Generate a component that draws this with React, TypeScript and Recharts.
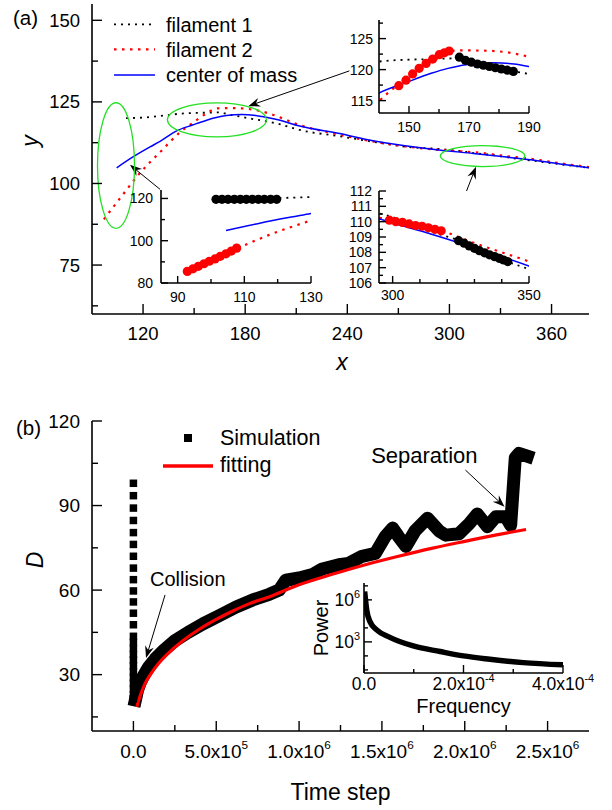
import React from 'react'
import {
  ComposedChart, Line, Scatter, XAxis, YAxis, CartesianGrid,
  ReferenceDot, ReferenceLine, Legend,
} from 'recharts'

const FONT = '"Liberation Sans", Arial, Helvetica, sans-serif'

// ── (a) filament trajectories ─────────────────────────────────────────────────

const fil1X = [110, 120, 134, 142, 150, 158, 165, 168, 171, 175, 180, 185, 190, 200, 212, 235, 255, 275, 296, 305, 315, 324, 333, 342, 350, 365, 382]
const fil1Y = [120.0, 120.2, 120.9, 121.4, 121.6, 121.7, 121.8, 121.5, 121.1, 120.7, 120.2, 119.7, 119.3, 118.2, 116.4, 114.5, 112.8, 111.2, 110.5, 110.0, 109.3, 108.8, 108.1, 107.4, 106.9, 105.9, 104.8]

const fil2X = [97, 100, 104, 108, 118, 130, 142, 149, 153.5, 158, 163.5, 168, 178, 188, 195, 212, 235, 255, 275, 299, 311, 318, 330, 340, 350, 365, 382]
const fil2Y = [89.0, 91.1, 93.8, 96.5, 103.1, 109.6, 115.8, 118.5, 120.2, 121.7, 123.0, 123.1, 123.0, 122.3, 121.3, 117.9, 115.0, 112.9, 111.3, 110.1, 109.7, 109.4, 108.6, 108.0, 107.4, 106.2, 105.0]

const comX = [104.5, 114.3, 124.1, 130, 140, 149, 157.4, 163, 169, 178, 185, 190, 198.6, 212, 235.5, 255, 275, 295, 314, 333.5, 350, 365, 382]
const comY = [104.8, 108.2, 111.2, 112.9, 116.2, 117.9, 119.4, 120.2, 120.8, 121.1, 120.9, 120.5, 119.6, 117.6, 115.3, 113.1, 111.5, 110.2, 109.2, 108.1, 107.1, 106.0, 104.8]

// beads of the filaments, only visible in the insets
const redBeadX = [92.9, 94.6, 96.2, 97.9, 99.5, 101.2, 102.8, 104.5, 106.1, 107.7, 146.6, 149.0, 151.2, 153.4, 155.7, 157.9, 160.1, 161.8, 163.4, 298.8, 301.2, 303.6, 306.0, 308.4, 310.8, 313.1, 315.5, 317.8]
const redBeadY = [85.5, 86.7, 87.9, 89.1, 90.3, 91.4, 92.6, 93.8, 95.1, 96.5, 117.4, 118.3, 119.3, 120.2, 121.0, 121.7, 122.4, 122.7, 123.0, 110.1, 110.0, 109.95, 109.85, 109.75, 109.7, 109.6, 109.5, 109.4]
const blackBeadX = [101.5, 103.3, 105.1, 107.0, 108.8, 110.6, 112.4, 114.2, 116.0, 117.9, 119.7, 166.8, 168.8, 170.8, 172.8, 174.8, 176.8, 178.8, 180.8, 182.8, 184.8, 324.2, 326.2, 328.1, 330.0, 331.8, 333.7, 335.5, 337.4, 339.2, 340.7, 342.2]
const blackBeadY = [119.6, 119.6, 119.6, 119.6, 119.6, 119.6, 119.6, 119.6, 119.6, 119.6, 119.6, 122.0, 121.5, 121.2, 120.9, 120.7, 120.5, 120.3, 120.1, 119.9, 119.7, 108.76, 108.6, 108.42, 108.26, 108.11, 107.97, 107.84, 107.72, 107.6, 107.5, 107.4]

// ── (b) distance vs time step ─────────────────────────────────────────────────

const simColumnD = [97.9, 93.5, 89.1, 84.7, 80.4, 76.2, 72.0, 67.8, 63.7, 59.7, 55.8, 51.8, 47.7, 43.6, 41.4, 39.3, 37.2, 35.2, 33.1, 31.0, 29.0, 26.9, 24.8, 22.8, 21.5]
const simTrailT = [1.2e4, 2.5e4, 4e4, 6e4, 9e4, 1.3e5, 1.8e5, 2.5e5, 3.3e5, 4.2e5, 5.2e5, 6.2e5, 7.2e5, 8.2e5, 8.8e5, 9.2e5, 1.0e6, 1.08e6, 1.14e6, 1.24e6, 1.3e6, 1.38e6, 1.46e6, 1.52e6, 1.565e6, 1.6e6, 1.645e6, 1.7e6, 1.775e6, 1.845e6, 1.885e6, 1.965e6, 2.026e6, 2.076e6, 2.137e6, 2.187e6, 2.247e6, 2.277e6, 2.305e6, 2.327e6, 2.378e6]
const simTrailD = [21.0, 24.5, 27.0, 29.5, 32.5, 35.5, 38.5, 42.0, 45.0, 48.0, 51.0, 54.0, 56.5, 58.5, 60.0, 63.5, 64.3, 65.5, 67.5, 69.0, 69.5, 72.0, 73.0, 79.0, 82.0, 79.0, 75.5, 81.0, 85.5, 81.0, 79.5, 80.0, 83.5, 87.0, 82.5, 86.0, 86.0, 83.0, 107.0, 108.5, 107.5]
const fitT = [2e4, 4e4, 7e4, 1e5, 1.5e5, 2e5, 3e5, 4e5, 5e5, 6e5, 7e5, 8e5, 1e6, 1.2e6, 1.4e6, 1.6e6, 1.8e6, 2e6, 2.2e6, 2.37e6]
const fitD = [18.5, 22.3, 26.8, 29.8, 33.9, 37.0, 42.1, 46.2, 49.6, 52.6, 55.2, 57.2, 61.9, 65.6, 69.0, 72.0, 74.8, 77.3, 79.7, 81.5]

// power spectrum (inset of b)
const freq = [1.3e-6, 5.4e-6, 1.2e-5, 2.55e-5, 5.2e-5, 9.9e-5, 1.53e-4, 2.0e-4, 2.53e-4, 3.2e-4, 4.0e-4]
const power = [4.0e6, 1.95e5, 2.8e4, 7.2e3, 2.1e3, 510, 205, 100, 58, 33, 23]

// ── tables for recharts ───────────────────────────────────────────────────────

const pts = (xs: number[], ys: number[]) => xs.map((x, i) => ({ x, y: ys[i] }))
const fil1 = pts(fil1X, fil1Y)
const fil2 = pts(fil2X, fil2Y)
const com = pts(comX, comY)
const redBeads = pts(redBeadX, redBeadY)
const blackBeads = pts(blackBeadX, blackBeadY)
const simColumn = simColumnD.map(d => ({ t: 0, d }))
const simTrail = simTrailT.map((t, i) => ({ t, d: simTrailD[i] }))
const fit = fitT.map((t, i) => ({ t, d: fitD[i] }))
const spectrum = freq.map((f, i) => ({ f, p: power[i] }))

// annotations (data coordinates)
const ellipsesA = [
  { x: 104.1, y: 105.5, rx: 18.5, ry: 62.8 },
  { x: 163.4, y: 119.5, rx: 49.5, ry: 17 },
  { x: 319.5, y: 108.4, rx: 42.3, ry: 10.5 },
]
const arrowsA = [
  { x1: 241.2, y1: 134.5, x2: 181.8, y2: 123.7 },
  { x1: 130, y1: 98.2, x2: 112.3, y2: 105.7 },
  { x1: 308.7, y1: 95.9, x2: 315.6, y2: 105.1 },
]
const notesB = [
  { t: 1.0e5, d: 61.5, text: 'Collision', fs: 20 },
  { t: 1.435e6, d: 105.2, text: 'Separation', fs: 22 },
]
const arrowsB = [
  { x1: 1.91e5, y1: 58.3, x2: 7.6e4, y2: 35.9 },
  { x1: 2.004e6, y1: 102.6, x2: 2.24e6, y2: 89.6 },
]

// ── axis helpers ──────────────────────────────────────────────────────────────

const AXIS = { stroke: '#000', strokeWidth: 1.6 }
const txt = { fontFamily: FONT, fill: '#000' } as const

type Side = 'left' | 'right' | 'top' | 'bottom'
type Fmt = (v: number, fs: number) => React.ReactNode

interface TickSpec {
  side: Side
  majors: number[]
  fmt?: Fmt
  fs?: number
  gap?: number
  len?: [number, number]
  out?: boolean
}

const isMajor = (majors: number[], v: number) =>
  majors.some(m => Math.abs(m - v) <= Math.abs(m) * 1e-9 + 1e-15)

function makeTick(s: TickSpec) {
  return function AxisTick(props: any) {
    const { x, y, payload } = props
    const v = payload.value
    const major = isMajor(s.majors, v)
    const [lMaj, lMin] = s.len ?? [8, 4]
    const l = (major ? lMaj : lMin) * (s.out ? -1 : 1)
    const x2 = s.side === 'left' ? x + l : s.side === 'right' ? x - l : x
    const y2 = s.side === 'bottom' ? y - l : s.side === 'top' ? y + l : y
    const fs = s.fs ?? 14
    const gap = s.gap ?? 0
    let label: React.ReactNode = null
    if (major && s.fmt) {
      label = s.side === 'bottom'
        ? <text x={x} y={y + gap} textAnchor="middle" fontSize={fs} style={txt}>{s.fmt(v, fs)}</text>
        : <text x={x - gap} y={y + fs * 0.355} textAnchor="end" fontSize={fs} style={txt}>{s.fmt(v, fs)}</text>
    }
    return (
      <g>
        <line x1={x} y1={y} x2={x2} y2={y2} stroke="#000" strokeWidth={1.4} />
        {label}
      </g>
    )
  }
}

const plain: Fmt = v => String(v)
const sci: Fmt = (v, fs) => {
  if (v === 0) return '0.0'
  const e = Math.floor(Math.log10(Math.abs(v)) + 1e-9)
  const m = v / Math.pow(10, e)
  return <>{m.toFixed(1)}x10<tspan dy={-fs * 0.45} fontSize={fs * 0.62}>{e}</tspan></>
}
const pow10: Fmt = (v, fs) => {
  const e = Math.round(Math.log10(v))
  return <>10<tspan dy={-fs * 0.45} fontSize={fs * 0.62}>{e}</tspan></>
}

function axisTitle(text: string, o: { side: 'bottom' | 'left'; off: number; shift?: number; fs: number; italic?: boolean }) {
  return (props: any) => {
    const vb = props.viewBox
    const style = { ...txt, fontStyle: o.italic ? 'italic' : 'normal' }
    if (o.side === 'bottom') {
      const x = vb.x + vb.width / 2 + (o.shift ?? 0)
      return <text x={x} y={vb.y + o.off} textAnchor="middle" fontSize={o.fs} style={style}>{text}</text>
    }
    const x = vb.x + vb.width - o.off
    const y = vb.y + vb.height / 2 + (o.shift ?? 0)
    return <text x={x} y={y} transform={`rotate(-90 ${x} ${y})`} textAnchor="middle" fontSize={o.fs} style={style}>{text}</text>
  }
}

interface FrameCfg {
  xKey: string
  xDomain: [number, number]
  yDomain: [number, number]
  xTicks: number[]
  xMajors: number[]
  yTicks: number[]
  yMajors: number[]
  xFmt: Fmt
  yFmt: Fmt
  fs: number
  gapX: number
  gapY: number
  len: [number, number]
  mirrorLen: [number, number]
  rightOut?: boolean
  xHeight: number
  yWidth: number
  yLog?: boolean
  xLabel?: any
  yLabel?: any
}

// four axes that together make the closed frame with ticks on every side
function frame(c: FrameCfg) {
  const common = { type: 'number' as const, allowDataOverflow: true, interval: 0 as const, tickSize: 0, tickMargin: 0, tickLine: false, axisLine: AXIS }
  return [
    <XAxis key="xb" {...common} dataKey={c.xKey} domain={c.xDomain} ticks={c.xTicks} height={c.xHeight}
      tick={makeTick({ side: 'bottom', majors: c.xMajors, fmt: c.xFmt, fs: c.fs, gap: c.gapX, len: c.len })}
      label={c.xLabel} />,
    <XAxis key="xt" {...common} xAxisId="top" orientation="top" domain={c.xDomain} ticks={c.xTicks} height={0}
      tick={makeTick({ side: 'top', majors: c.xMajors, len: c.mirrorLen })} />,
    <YAxis key="yl" {...common} scale={c.yLog ? 'log' : 'auto'} domain={c.yDomain} ticks={c.yTicks} width={c.yWidth}
      tick={makeTick({ side: 'left', majors: c.yMajors, fmt: c.yFmt, fs: c.fs, gap: c.gapY, len: c.len })}
      label={c.yLabel} />,
    <YAxis key="yr" {...common} yAxisId="right" orientation="right" scale={c.yLog ? 'log' : 'auto'} domain={c.yDomain} ticks={c.yTicks} width={0}
      tick={makeTick({ side: 'right', majors: c.yMajors, len: c.mirrorLen, out: c.rightOut })} />,
  ]
}

function arrowShape(p: any) {
  const { x1, y1, x2, y2 } = p
  const dx = x2 - x1
  const dy = y2 - y1
  const L = Math.hypot(dx, dy) || 1
  const ux = dx / L
  const uy = dy / L
  const h = 12
  const w = 4.5
  const n = 8
  const bx = x2 - ux * h
  const by = y2 - uy * h
  const head = `${x2},${y2} ${bx - uy * w},${by + ux * w} ${x2 - ux * n},${y2 - uy * n} ${bx + uy * w},${by - ux * w}`
  return (
    <g>
      <line x1={x1} y1={y1} x2={x2 - ux * n} y2={y2 - uy * n} stroke="#000" strokeWidth={1} />
      <polygon points={head} fill="#000" />
    </g>
  )
}

// ── line styles ───────────────────────────────────────────────────────────────

const fil1Style = { stroke: '#000', strokeWidth: 1.8, strokeDasharray: '2 5' }
const fil2Style = { stroke: '#ff0000', strokeWidth: 2.2, strokeDasharray: '2.5 5.5' }
const comStyle = { stroke: '#0000ff', strokeWidth: 1.5 }
const noAnim = { dot: false, activeDot: false, isAnimationActive: false, type: 'monotone' as const }

function LegendA() {
  return (
    <svg width={330} height={100}>
      <line x1={114} y1={24.3} x2={155} y2={24.3} {...fil1Style} />
      <text x={166} y={31.7} fontSize={20} style={txt}>filament 1</text>
      <line x1={114} y1={49.3} x2={155} y2={49.3} {...fil2Style} />
      <text x={166} y={56.7} fontSize={20} style={txt}>filament 2</text>
      <line x1={114} y1={75} x2={155} y2={75} {...comStyle} />
      <text x={166} y={81.7} fontSize={20} style={txt}>center of mass</text>
    </svg>
  )
}

function LegendB() {
  return (
    <svg width={330} height={100}>
      <rect x={184} y={34} width={8} height={8} fill="#000" />
      <text x={220} y={45} fontSize={21.5} style={txt}>Simulation</text>
      <line x1={163} y1={66} x2={213} y2={66} stroke="#ff0000" strokeWidth={3.5} />
      <text x={220} y={71.7} fontSize={21.5} style={txt}>fitting</text>
    </svg>
  )
}

function PanelA() {
  return (
    <ComposedChart width={612} height={380} margin={{ top: 4, right: 23, left: 52, bottom: 16 }}>
      {frame({
        xKey: 'x', xDomain: [90, 382], yDomain: [60, 155],
        xTicks: [120, 150, 180, 210, 240, 270, 300, 330, 360], xMajors: [120, 180, 240, 300, 360],
        yTicks: [62.5, 75, 87.5, 100, 112.5, 125, 137.5, 150], yMajors: [75, 100, 125, 150],
        xFmt: plain, yFmt: plain, fs: 18.5, gapX: 26, gapY: 12, len: [10, 6], mirrorLen: [4, 2.5], rightOut: true,
        xHeight: 50, yWidth: 40,
        xLabel: axisTitle('x', { side: 'bottom', off: 56, shift: 1.5, fs: 23, italic: true }),
        yLabel: axisTitle('y', { side: 'left', off: 54.5, shift: -18, fs: 23, italic: true }),
      })}
      <Legend content={LegendA} layout="vertical" align="center" verticalAlign="middle"
        wrapperStyle={{ left: 0, top: 0, width: 330, height: 100 }} />
      {ellipsesA.map((e, i) => (
        <ReferenceDot key={`e${i}`} x={e.x} y={e.y} r={0}
          shape={(p: any) => <ellipse cx={p.cx} cy={p.cy} rx={e.rx} ry={e.ry} fill="none" stroke="#22e022" strokeWidth={1.3} />} />
      ))}
      <Line data={fil1} dataKey="y" {...fil1Style} {...noAnim} />
      <Line data={fil2} dataKey="y" {...fil2Style} {...noAnim} />
      <Line data={com} dataKey="y" {...comStyle} {...noAnim} />
      {arrowsA.map((a, i) => (
        <ReferenceLine key={`a${i}`} segment={[{ x: a.x1, y: a.y1 }, { x: a.x2, y: a.y2 }]} shape={arrowShape} />
      ))}
    </ComposedChart>
  )
}

interface InsetCfg {
  left: number
  top: number
  margin: { top: number; right: number; left: number; bottom: number }
  xDomain: [number, number]
  yDomain: [number, number]
  xTicks: number[]
  xMajors: number[]
  yTicks: number[]
  yMajors: number[]
  gapX: number
  gapY: number
}

const insetTop: InsetCfg = {
  left: 330, top: 10, margin: { top: 10, right: 26, left: 9, bottom: 5 },
  xDomain: [140, 190], yDomain: [113, 128],
  xTicks: [150, 160, 170, 180, 190], xMajors: [150, 170, 190],
  yTicks: [115, 117.5, 120, 122.5, 125, 127.5], yMajors: [115, 120, 125],
  gapX: 19, gapY: 6,
}
const insetLeft: InsetCfg = {
  left: 110, top: 180, margin: { top: 10, right: 24, left: 11, bottom: 5 },
  xDomain: [85, 130], yDomain: [80, 124],
  xTicks: [90, 100, 110, 120, 130], xMajors: [90, 110, 130],
  yTicks: [80, 90, 100, 110, 120], yMajors: [80, 100, 120],
  gapX: 18.7, gapY: 8,
}
const insetRight: InsetCfg = {
  left: 330, top: 180, margin: { top: 11, right: 26, left: 9, bottom: 5 },
  xDomain: [295, 350], yDomain: [106, 112],
  xTicks: [300, 310, 320, 330, 340, 350], xMajors: [300, 350],
  yTicks: [106, 106.5, 107, 107.5, 108, 108.5, 109, 109.5, 110, 110.5, 111, 111.5, 112],
  yMajors: [106, 107, 108, 109, 110, 111, 112],
  gapX: 17.4, gapY: 7,
}

function TrajectoryInset({ cfg }: { cfg: InsetCfg }) {
  const inside = (p: { x: number; y: number }) =>
    p.x >= cfg.xDomain[0] && p.x <= cfg.xDomain[1] && p.y >= cfg.yDomain[0] && p.y <= cfg.yDomain[1]
  const bead = (fill: string) => (p: any) => <circle cx={p.cx} cy={p.cy} r={4.6} fill={fill} />
  return (
    <div style={{ position: 'absolute', left: cfg.left, top: cfg.top }}>
      <ComposedChart width={225} height={130} margin={cfg.margin}>
        <CartesianGrid fill="#fff" horizontal={false} vertical={false} />
        {frame({
          xKey: 'x', xDomain: cfg.xDomain, yDomain: cfg.yDomain,
          xTicks: cfg.xTicks, xMajors: cfg.xMajors, yTicks: cfg.yTicks, yMajors: cfg.yMajors,
          xFmt: plain, yFmt: plain, fs: 14, gapX: cfg.gapX, gapY: cfg.gapY, len: [7, 4], mirrorLen: [7, 4],
          xHeight: 22, yWidth: 40,
        })}
        <Line data={fil1} dataKey="y" {...fil1Style} {...noAnim} />
        <Line data={fil2} dataKey="y" {...fil2Style} {...noAnim} />
        <Line data={com} dataKey="y" {...comStyle} {...noAnim} />
        <Scatter data={redBeads.filter(inside)} dataKey="y" shape={bead('#ff0000')} isAnimationActive={false} />
        <Scatter data={blackBeads.filter(inside)} dataKey="y" shape={bead('#000')} isAnimationActive={false} />
      </ComposedChart>
    </div>
  )
}

function PanelB() {
  return (
    <ComposedChart width={612} height={410} margin={{ top: 21, right: 23, left: 52, bottom: 19 }}>
      {frame({
        xKey: 't', xDomain: [-2.5e5, 2.75e6], yDomain: [10, 120],
        xTicks: [0, 2.5e5, 5e5, 7.5e5, 1e6, 1.25e6, 1.5e6, 1.75e6, 2e6, 2.25e6, 2.5e6],
        xMajors: [0, 5e5, 1e6, 1.5e6, 2e6, 2.5e6],
        yTicks: [15, 30, 45, 60, 75, 90, 105, 120], yMajors: [30, 60, 90, 120],
        xFmt: sci, yFmt: plain, fs: 19, gapX: 27, gapY: 12, len: [10, 6], mirrorLen: [4, 2.5], rightOut: true,
        xHeight: 60, yWidth: 40,
        xLabel: axisTitle('Time step', { side: 'bottom', off: 69, fs: 23 }),
        yLabel: axisTitle('D', { side: 'left', off: 48.7, shift: -16, fs: 23, italic: true }),
      })}
      <Legend content={LegendB} layout="vertical" align="center" verticalAlign="middle"
        wrapperStyle={{ left: 0, top: 0, width: 330, height: 100 }} />
      <Scatter data={simColumn} dataKey="d" isAnimationActive={false}
        shape={(p: any) => <rect x={p.cx - 3.75} y={p.cy - 3.75} width={7.5} height={7.5} fill="#000" />} />
      <Line data={simTrail} dataKey="d" type="linear" stroke="#000" strokeWidth={13} strokeLinejoin="round"
        strokeLinecap="square" dot={false} activeDot={false} isAnimationActive={false} />
      <Line data={fit} dataKey="d" type="monotone" stroke="#ff0000" strokeWidth={3.2}
        dot={false} activeDot={false} isAnimationActive={false} />
      {notesB.map((n, i) => (
        <ReferenceDot key={`n${i}`} x={n.t} y={n.d} r={0}
          shape={(p: any) => <text x={p.cx} y={p.cy} fontSize={n.fs} style={txt}>{n.text}</text>} />
      ))}
      {arrowsB.map((a, i) => (
        <ReferenceLine key={`b${i}`} segment={[{ x: a.x1, y: a.y1 }, { x: a.x2, y: a.y2 }]} shape={arrowShape} />
      ))}
    </ComposedChart>
  )
}

function SpectrumInset() {
  return (
    <ComposedChart width={312} height={160} margin={{ top: 13, right: 49, left: 24, bottom: 12 }}>
      <CartesianGrid fill="#fff" horizontal={false} vertical={false} />
      {frame({
        xKey: 'f', xDomain: [0, 4e-4], yDomain: [6, 1.6e7], yLog: true,
        xTicks: [0, 1e-4, 2e-4, 3e-4, 4e-4], xMajors: [0, 2e-4, 4e-4],
        yTicks: [10, 100, 1e3, 1e4, 1e5, 1e6, 1e7], yMajors: [1e3, 1e6],
        xFmt: sci, yFmt: pow10, fs: 17.5, gapX: 17, gapY: 4, len: [8, 4], mirrorLen: [8, 4],
        xHeight: 45, yWidth: 40,
        xLabel: axisTitle('Frequency', { side: 'bottom', off: 40, fs: 20 }),
        yLabel: axisTitle('Power', { side: 'left', off: 36, fs: 20 }),
      })}
      <Line data={spectrum} dataKey="p" type="monotone" stroke="#000" strokeWidth={5.5}
        dot={false} activeDot={false} isAnimationActive={false} />
    </ComposedChart>
  )
}

export default function App() {
  return (
    <div style={{ position: 'absolute', left: 0, top: 0, width: 612, height: 810, background: '#fff', fontFamily: FONT, overflow: 'hidden' }}>
      <div style={{ position: 'absolute', left: 0, top: 0 }}><PanelA /></div>
      <TrajectoryInset cfg={insetTop} />
      <TrajectoryInset cfg={insetLeft} />
      <TrajectoryInset cfg={insetRight} />
      <div style={{ position: 'absolute', left: 0, top: 400 }}><PanelB /></div>
      <div style={{ position: 'absolute', left: 300, top: 570 }}><SpectrumInset /></div>
      <svg width={612} height={810} style={{ position: 'absolute', left: 0, top: 0, pointerEvents: 'none' }}>
        <text x={13} y={25} fontSize={20.5} style={txt}>(a)</text>
        <text x={16} y={435} fontSize={20.5} style={txt}>(b)</text>
      </svg>
    </div>
  )
}
